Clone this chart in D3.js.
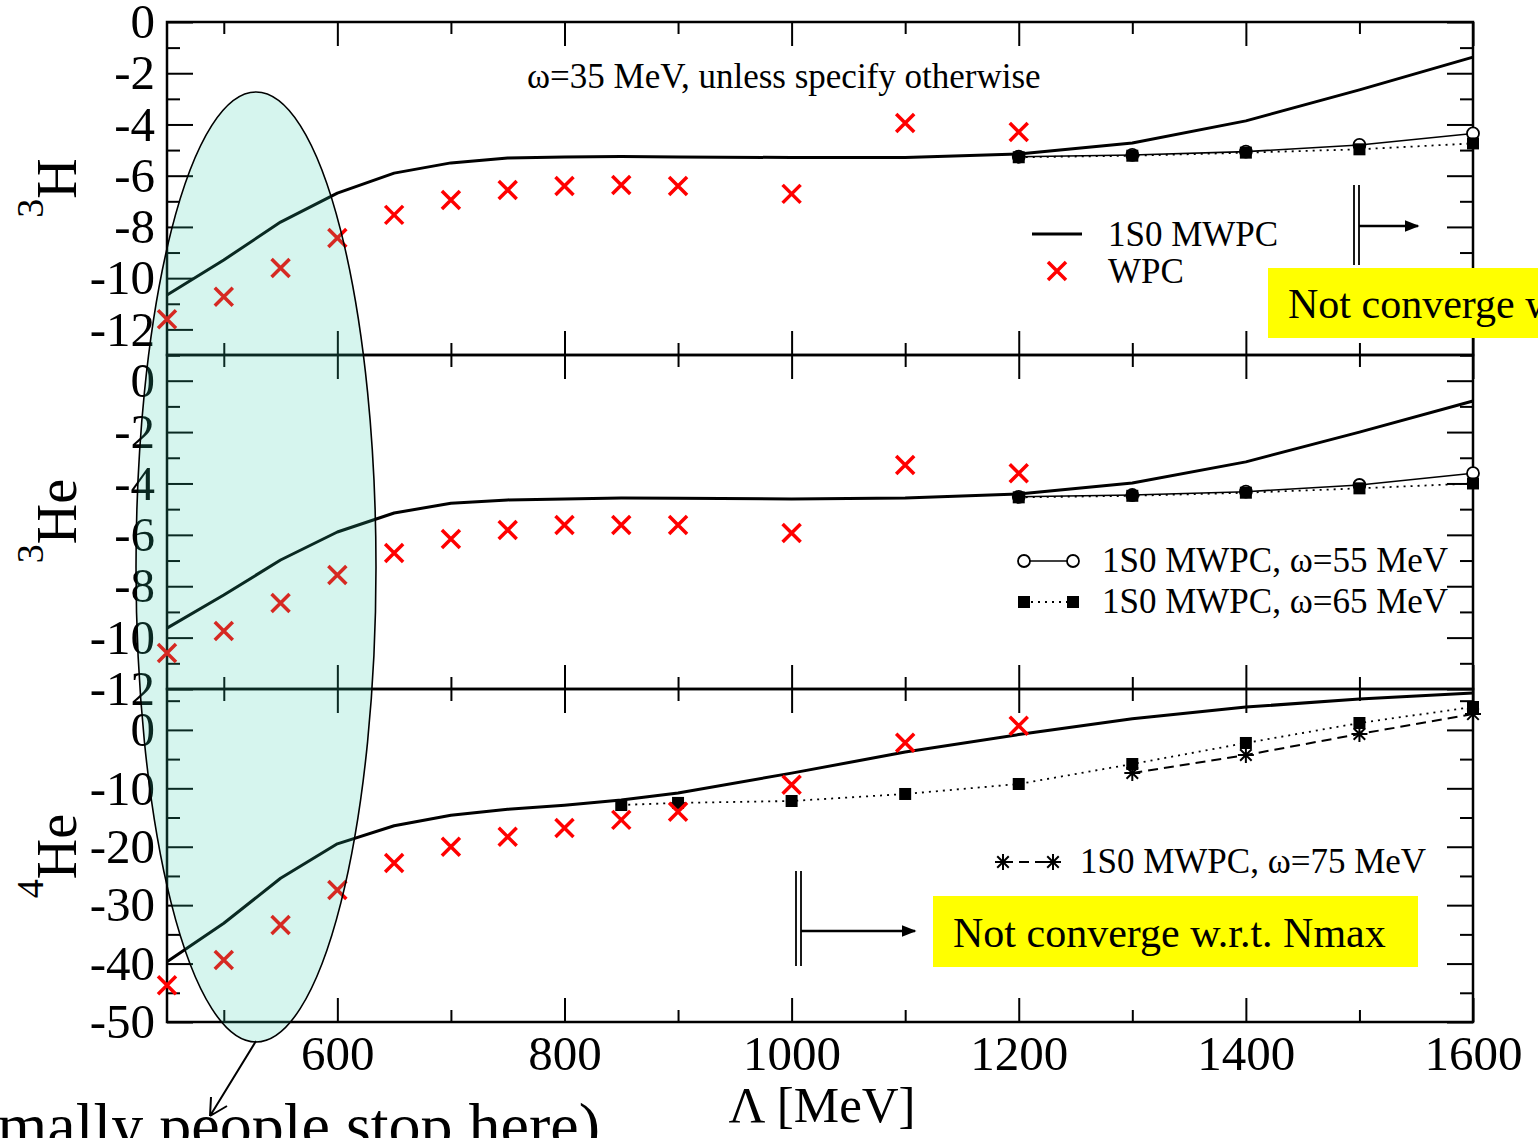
<!DOCTYPE html>
<html>
<head>
<meta charset="utf-8">
<script src="https://cdn.jsdelivr.net/npm/d3@7"></script>
<style>
  html, body { margin: 0; padding: 0; background: #fff; }
  svg { display: block; font-family: "Liberation Serif", "Times New Roman", Times, serif; }
</style>
</head>
<body>
<svg id="chart" width="1538" height="1138"></svg>
<script>
// ---- cutoff grids (MeV) ----
const lambdaFull   = [450, 500, 550, 600, 650, 700, 750, 800, 850, 900, 1000, 1100, 1200, 1300, 1400, 1500, 1600];
const lambdaWpc    = [450, 500, 550, 600, 650, 700, 750, 800, 850, 900, 1000, 1100, 1200];
const lambdaHigh   = [1200, 1300, 1400, 1500, 1600];
const lambdaHe4W65 = [850, 900, 1000, 1100, 1200, 1300, 1400, 1500, 1600];
const lambdaHe4W75 = [1300, 1400, 1500, 1600];

// ---- x axis ticks ----
const xDomain     = [450, 1600];
const xMajorTicks = [600, 800, 1000, 1200, 1400, 1600];
const xMinorTicks = [500, 700, 900, 1100, 1300, 1500];

// ---- 3H binding energies (MeV) ----
const h3Mwpc35 = [-10.66, -9.29, -7.81, -6.68, -5.9, -5.5, -5.31, -5.27, -5.25, -5.27, -5.29, -5.29, -5.15, -4.72, -3.86, -2.65, -1.37];
const h3Wpc    = [-11.6, -10.73, -9.6, -8.43, -7.53, -6.95, -6.56, -6.4, -6.36, -6.4, -6.71, -3.94, -4.29];
const h3Mwpc55 = [-5.26, -5.19, -5.06, -4.8, -4.35];
const h3Mwpc65 = [-5.28, -5.22, -5.1, -4.97, -4.74];

// ---- 3He binding energies (MeV) ----
const he3Mwpc35 = [-9.63, -8.34, -6.98, -5.89, -5.15, -4.77, -4.64, -4.6, -4.57, -4.58, -4.6, -4.57, -4.41, -3.98, -3.16, -2.0, -0.79];
const he3Wpc    = [-10.6, -9.74, -8.65, -7.56, -6.71, -6.16, -5.81, -5.62, -5.62, -5.62, -5.93, -3.28, -3.6];
const he3Mwpc55 = [-4.52, -4.45, -4.32, -4.06, -3.6];
const he3Mwpc65 = [-4.54, -4.48, -4.36, -4.19, -4.0];

// ---- 4He binding energies (MeV) ----
const he4Mwpc35 = [-39.7, -33.1, -25.4, -19.5, -16.4, -14.6, -13.6, -12.9, -12.0, -10.8, -7.4, -3.8, -0.8, 1.9, 3.9, 5.3, 6.3];
const he4Wpc    = [-43.7, -39.4, -33.4, -27.4, -22.8, -20.0, -18.3, -16.8, -15.4, -14.0, -9.4, -2.2, 0.7];
const he4Mwpc65 = [-12.86, -12.5, -12.17, -10.97, -9.26, -5.84, -2.24, 1.18, 3.92];
const he4Mwpc75 = [-7.38, -4.3, -0.7, 2.7];

// ---- per-panel y axes ----
const panelMass    = ["3", "3", "4"];
const panelSymbol  = ["H", "He", "He"];
const panelDomains = [[-13, 0], [-12, 1], [-50, 7]];
const panelMajors  = [[0, -2, -4, -6, -8, -10, -12], [0, -2, -4, -6, -8, -10, -12], [0, -10, -20, -30, -40, -50]];
const panelMinors  = [[-1, -3, -5, -7, -9, -11, -13], [1, -1, -3, -5, -7, -9, -11], [5, -5, -15, -25, -35, -45]];

// ---- legend / annotation texts ----
const noteOmega    = "ω=35 MeV, unless specify otherwise";
const legendMain   = "1S0 MWPC";
const legendWpc    = "WPC";
const legend55     = "1S0 MWPC, ω=55 MeV";
const legend65     = "1S0 MWPC, ω=65 MeV";
const legend75     = "1S0 MWPC, ω=75 MeV";
const noteConverge = "Not converge w.r.t. Nmax";
const noteStop     = "(normally people stop here)";
const xTitle       = "Λ [MeV]";

// ---------------------------------------------------------------
const svg = d3.select("#chart");
const X0 = 167, X1 = 1473;
const panelTop    = [22, 355, 689];
const panelBottom = [355, 689, 1022];

const x = d3.scaleLinear().domain(xDomain).range([X0, X1]);
const yScales = panelDomains.map((dom, i) =>
  d3.scaleLinear().domain(dom).range([panelBottom[i], panelTop[i]]));

const zip = (xs, ys) => xs.map((v, i) => [v, ys[i]]);

const series = [
  [
    { pts: zip(lambdaFull, h3Mwpc35), kind: "main" },
    { pts: zip(lambdaHigh, h3Mwpc55), kind: "w55" },
    { pts: zip(lambdaHigh, h3Mwpc65), kind: "w65" },
    { pts: zip(lambdaWpc, h3Wpc), kind: "wpc" }
  ],
  [
    { pts: zip(lambdaFull, he3Mwpc35), kind: "main" },
    { pts: zip(lambdaHigh, he3Mwpc55), kind: "w55" },
    { pts: zip(lambdaHigh, he3Mwpc65), kind: "w65" },
    { pts: zip(lambdaWpc, he3Wpc), kind: "wpc" }
  ],
  [
    { pts: zip(lambdaFull, he4Mwpc35), kind: "main" },
    { pts: zip(lambdaHe4W75, he4Mwpc75), kind: "w75" },
    { pts: zip(lambdaHe4W65, he4Mwpc65), kind: "w65" },
    { pts: zip(lambdaWpc, he4Wpc), kind: "wpc" }
  ]
];

const lineStyle = {
  main: { w: 3, dash: null },
  w55:  { w: 1.6, dash: null },
  w65:  { w: 1.8, dash: "2,5" },
  w75:  { w: 2, dash: "10,6" }
};

// marker paths
const crossPath = (cx, cy, s = 9) => `M${cx - s},${cy - s}L${cx + s},${cy + s}M${cx - s},${cy + s}L${cx + s},${cy - s}`;
const starPath = (cx, cy, s = 8) => {
  const d = s * 0.72;
  return `M${cx},${cy - s}L${cx},${cy + s}M${cx - s},${cy}L${cx + s},${cy}` +
         `M${cx - d},${cy - d}L${cx + d},${cy + d}M${cx - d},${cy + d}L${cx + d},${cy - d}`;
};

function drawMarkers(g, kind, pts) {
  if (kind === "wpc") {
    g.selectAll(null).data(pts).join("path")
      .attr("d", d => crossPath(d[0], d[1]))
      .attr("stroke", "#ff0000").attr("stroke-width", 3.5).attr("fill", "none");
  } else if (kind === "w55") {
    g.selectAll(null).data(pts).join("circle")
      .attr("cx", d => d[0]).attr("cy", d => d[1]).attr("r", 6)
      .attr("fill", "#fff").attr("stroke", "#000").attr("stroke-width", 1.8);
  } else if (kind === "w65") {
    g.selectAll(null).data(pts).join("rect")
      .attr("x", d => d[0] - 6).attr("y", d => d[1] - 6)
      .attr("width", 12).attr("height", 12).attr("fill", "#000");
  } else if (kind === "w75") {
    g.selectAll(null).data(pts).join("path")
      .attr("d", d => starPath(d[0], d[1]))
      .attr("stroke", "#000").attr("stroke-width", 2).attr("fill", "none");
  }
}

function styleAxis(ax) {
  ax.select(".domain").remove();
  ax.attr("font-size", null).attr("font-family", null);
  ax.selectAll(".tick line").attr("stroke", "#000").attr("stroke-width", 2);
}

// ---- panels ----
yScales.forEach((y, i) => {
  const g = svg.append("g").attr("class", "panel");

  // y ticks, left with labels
  const left = g.append("g").attr("transform", `translate(${X0},0)`)
    .call(d3.axisLeft(y).tickValues(panelMajors[i]).tickSize(-26).tickPadding(12).tickFormat(d => String(d)));
  styleAxis(left);
  left.selectAll("text").attr("font-size", 49).attr("fill", "#000");
  const leftMinor = g.append("g").attr("transform", `translate(${X0},0)`)
    .call(d3.axisLeft(y).tickValues(panelMinors[i]).tickSize(-13).tickFormat(""));
  styleAxis(leftMinor);

  // y ticks, right
  const right = g.append("g").attr("transform", `translate(${X1},0)`)
    .call(d3.axisRight(y).tickValues(panelMajors[i]).tickSize(-26).tickFormat(""));
  styleAxis(right);
  const rightMinor = g.append("g").attr("transform", `translate(${X1},0)`)
    .call(d3.axisRight(y).tickValues(panelMinors[i]).tickSize(-13).tickFormat(""));
  styleAxis(rightMinor);

  // x ticks on top and bottom edges of every panel
  const topAx = g.append("g").attr("transform", `translate(0,${panelTop[i]})`)
    .call(d3.axisTop(x).tickValues(xMajorTicks).tickSize(-24).tickFormat(""));
  styleAxis(topAx);
  const topMinor = g.append("g").attr("transform", `translate(0,${panelTop[i]})`)
    .call(d3.axisTop(x).tickValues(xMinorTicks).tickSize(-12).tickFormat(""));
  styleAxis(topMinor);
  const botAx = g.append("g").attr("transform", `translate(0,${panelBottom[i]})`)
    .call(d3.axisBottom(x).tickValues(xMajorTicks).tickSize(-24).tickPadding(13)
      .tickFormat(i === 2 ? (d => String(d)) : ""));
  styleAxis(botAx);
  botAx.selectAll("text").attr("font-size", 49).attr("fill", "#000");
  const botMinor = g.append("g").attr("transform", `translate(0,${panelBottom[i]})`)
    .call(d3.axisBottom(x).tickValues(xMinorTicks).tickSize(-12).tickFormat(""));
  styleAxis(botMinor);

  // frame
  g.append("rect")
    .attr("x", X0).attr("y", panelTop[i])
    .attr("width", X1 - X0).attr("height", panelBottom[i] - panelTop[i])
    .attr("fill", "none").attr("stroke", "#000").attr("stroke-width", 2.5);

  // curves
  const line = d3.line().x(d => x(d[0])).y(d => y(d[1]));
  series[i].forEach(s => {
    if (s.kind === "wpc") return;
    const st = lineStyle[s.kind];
    g.append("path").datum(s.pts).attr("d", line)
      .attr("fill", "none").attr("stroke", "#000").attr("stroke-width", st.w)
      .attr("stroke-dasharray", st.dash).attr("stroke-linejoin", "round");
  });
  // markers
  series[i].forEach(s => {
    drawMarkers(g.append("g"), s.kind, s.pts.map(d => [x(d[0]), y(d[1])]));
  });

  // nucleus label
  const cy = [188, 521, 856][i];
  const lab = svg.append("text")
    .attr("transform", `translate(76,${cy}) rotate(-90)`)
    .attr("text-anchor", "middle").attr("fill", "#000");
  lab.append("tspan").attr("font-size", 38).attr("dy", -33).text(panelMass[i]);
  lab.append("tspan").attr("font-size", 56).attr("dy", 33).text(panelSymbol[i]);
});

// ---- x title ----
svg.append("text").attr("x", 822).attr("y", 1122).attr("text-anchor", "middle")
  .attr("font-size", 51).attr("fill", "#000").text(xTitle);

// ---- top panel notes and legend ----
svg.append("text").attr("x", 527).attr("y", 88).attr("font-size", 35).attr("fill", "#000").text(noteOmega);

svg.append("line").attr("x1", 1032).attr("x2", 1082).attr("y1", 234).attr("y2", 234)
  .attr("stroke", "#000").attr("stroke-width", 3);
svg.append("text").attr("x", 1108).attr("y", 246).attr("font-size", 35).attr("fill", "#000").text(legendMain);
drawMarkers(svg.append("g"), "wpc", [[1057, 271]]);
svg.append("text").attr("x", 1108).attr("y", 283).attr("font-size", 35).attr("fill", "#000").text(legendWpc);

// ---- middle panel legend ----
svg.append("line").attr("x1", 1024).attr("x2", 1073).attr("y1", 561).attr("y2", 561)
  .attr("stroke", "#000").attr("stroke-width", 1.6);
drawMarkers(svg.append("g"), "w55", [[1024, 561], [1073, 561]]);
svg.append("text").attr("x", 1102).attr("y", 572).attr("font-size", 35).attr("fill", "#000").text(legend55);
svg.append("line").attr("x1", 1024).attr("x2", 1073).attr("y1", 602).attr("y2", 602)
  .attr("stroke", "#000").attr("stroke-width", 1.8).attr("stroke-dasharray", "2,5");
drawMarkers(svg.append("g"), "w65", [[1024, 602], [1073, 602]]);
svg.append("text").attr("x", 1102).attr("y", 613).attr("font-size", 35).attr("fill", "#000").text(legend65);

// ---- bottom panel legend ----
svg.append("line").attr("x1", 1003).attr("x2", 1053).attr("y1", 862).attr("y2", 862)
  .attr("stroke", "#000").attr("stroke-width", 2).attr("stroke-dasharray", "10,6");
drawMarkers(svg.append("g"), "w75", [[1003, 862], [1053, 862]]);
svg.append("text").attr("x", 1080).attr("y", 873).attr("font-size", 35).attr("fill", "#000").text(legend75);

// ---- "not converged" markers: double bar + arrow + yellow box ----
const defs = svg.append("defs");
defs.append("marker").attr("id", "tri").attr("viewBox", "0 0 10 10")
  .attr("refX", 9).attr("refY", 5).attr("markerWidth", 6).attr("markerHeight", 6)
  .attr("markerUnits", "strokeWidth").attr("orient", "auto")
  .append("path").attr("d", "M0,1L10,5L0,9Z").attr("fill", "#000");

function convergeNote(barX, y1, y2, arrowY, tipX, box, textX, textY) {
  const g = svg.append("g");
  [barX, barX + 5].forEach(bx => g.append("line")
    .attr("x1", bx).attr("x2", bx).attr("y1", y1).attr("y2", y2)
    .attr("stroke", "#000").attr("stroke-width", 1.8));
  g.append("line").attr("x1", barX + 5).attr("x2", tipX).attr("y1", arrowY).attr("y2", arrowY)
    .attr("stroke", "#000").attr("stroke-width", 2.5).attr("marker-end", "url(#tri)");
  g.append("rect").attr("x", box[0]).attr("y", box[1]).attr("width", box[2]).attr("height", box[3])
    .attr("fill", "#ffff00");
  g.append("text").attr("x", textX).attr("y", textY).attr("font-size", 42).attr("fill", "#000").text(noteConverge);
}
convergeNote(1354, 185, 265, 226, 1418, [1268, 268, 300, 70], 1288, 318);
convergeNote(796, 871, 966, 931, 915, [933, 896, 485, 71], 953, 947);

// ---- highlighted low-cutoff region ----
svg.append("ellipse").attr("cx", 256).attr("cy", 567).attr("rx", 120).attr("ry", 475)
  .attr("fill", "rgb(50,205,170)").attr("fill-opacity", 0.2)
  .attr("stroke", "#000").attr("stroke-width", 1.6);

svg.append("path").attr("d", "M256,1041L210,1116M210,1116L211,1097M210,1116L227,1106")
  .attr("fill", "none").attr("stroke", "#000").attr("stroke-width", 2);
svg.append("text").attr("x", 600).attr("y", 1147).attr("text-anchor", "end")
  .attr("font-size", 64).attr("fill", "#000").text(noteStop);
</script>
</body>
</html>
